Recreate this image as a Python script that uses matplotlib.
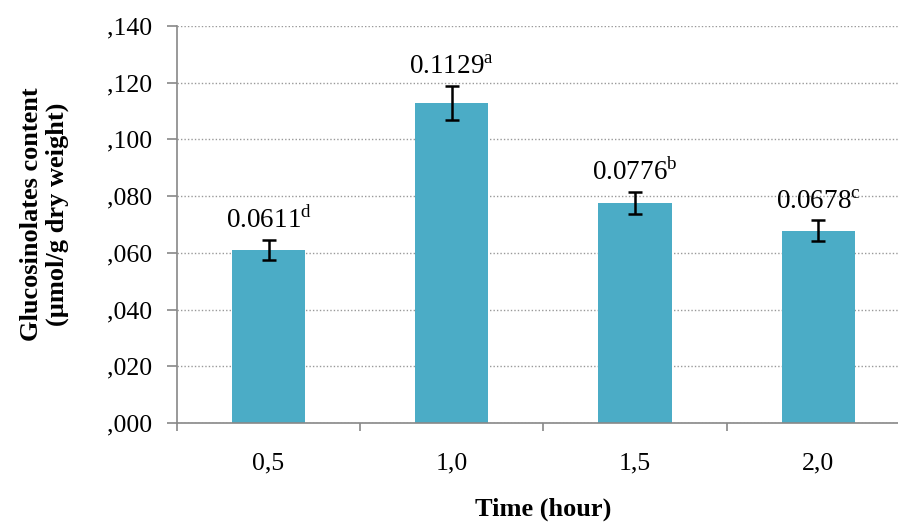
import matplotlib.pyplot as plt
from matplotlib.ticker import FixedLocator, FuncFormatter

times = ["0,5", "1,0", "1,5", "2,0"]
content = [0.0611, 0.1129, 0.0776, 0.0678]
errors = [0.0035, 0.006, 0.004, 0.0037]
letters = ["d", "a", "b", "c"]

plt.rcParams['font.family'] = ['Liberation Serif', 'DejaVu Serif']
plt.rcParams['mathtext.fontset'] = 'custom'
plt.rcParams['mathtext.rm'] = 'Liberation Serif'

fig = plt.figure(figsize=(8.98, 5.23), dpi=100)
ax = fig.add_axes([0.197, 0.1912, 1.0134 - 0.197, 0.9503 - 0.1912])

x = list(range(len(times)))
ax.bar(x, content, width=0.4, color='#4BACC6', zorder=2)
ax.errorbar(x, content, yerr=errors, fmt='none', ecolor='black',
            elinewidth=1.8, capsize=5, capthick=1.8, zorder=3)

for xi, v, e, l in zip(x, content, errors, letters):
    ax.annotate(f"{v:.4f}" + r"$^{\mathrm{" + l + "}}$", (xi, v + e),
                xytext=(0, 4), textcoords='offset points',
                ha='center', va='bottom', fontsize=19.5)

ax.set_xlim(-0.5, len(times) - 0.5)
ax.set_ylim(0, 0.14)
ax.set_yticks([i * 0.02 for i in range(8)])
ax.yaxis.set_major_formatter(FuncFormatter(lambda v, p: "," + f"{int(round(v * 1000)):03d}"))
ax.yaxis.grid(True, linestyle=(0, (1, 1.5)), color='#999999', linewidth=1.0, zorder=0)

ax.set_xticks(x)
ax.set_xticklabels(times)
ax.xaxis.set_minor_locator(FixedLocator([i - 0.5 for i in range(len(times) + 1)]))
ax.tick_params(axis='x', which='major', length=0, pad=21, labelsize=18.5)
ax.tick_params(axis='x', which='minor', length=6, color='#888888', width=1.2)
ax.tick_params(axis='y', length=7, color='#888888', width=1.2, labelsize=18.5, pad=10.5)

for s in ['top', 'right']:
    ax.spines[s].set_visible(False)
for s in ['left', 'bottom']:
    ax.spines[s].set_color('#888888')
    ax.spines[s].set_linewidth(1.2)

ax.set_xlabel("Time (hour)", fontsize=19, fontweight='bold', labelpad=17)
ax.set_ylabel("Glucosinolates content\n(µmol/g dry weight)", fontsize=19,
              fontweight='bold', labelpad=28, linespacing=1.1)
ax.yaxis.label.set_y(0.525)

fig.savefig("out.png", dpi=100)
